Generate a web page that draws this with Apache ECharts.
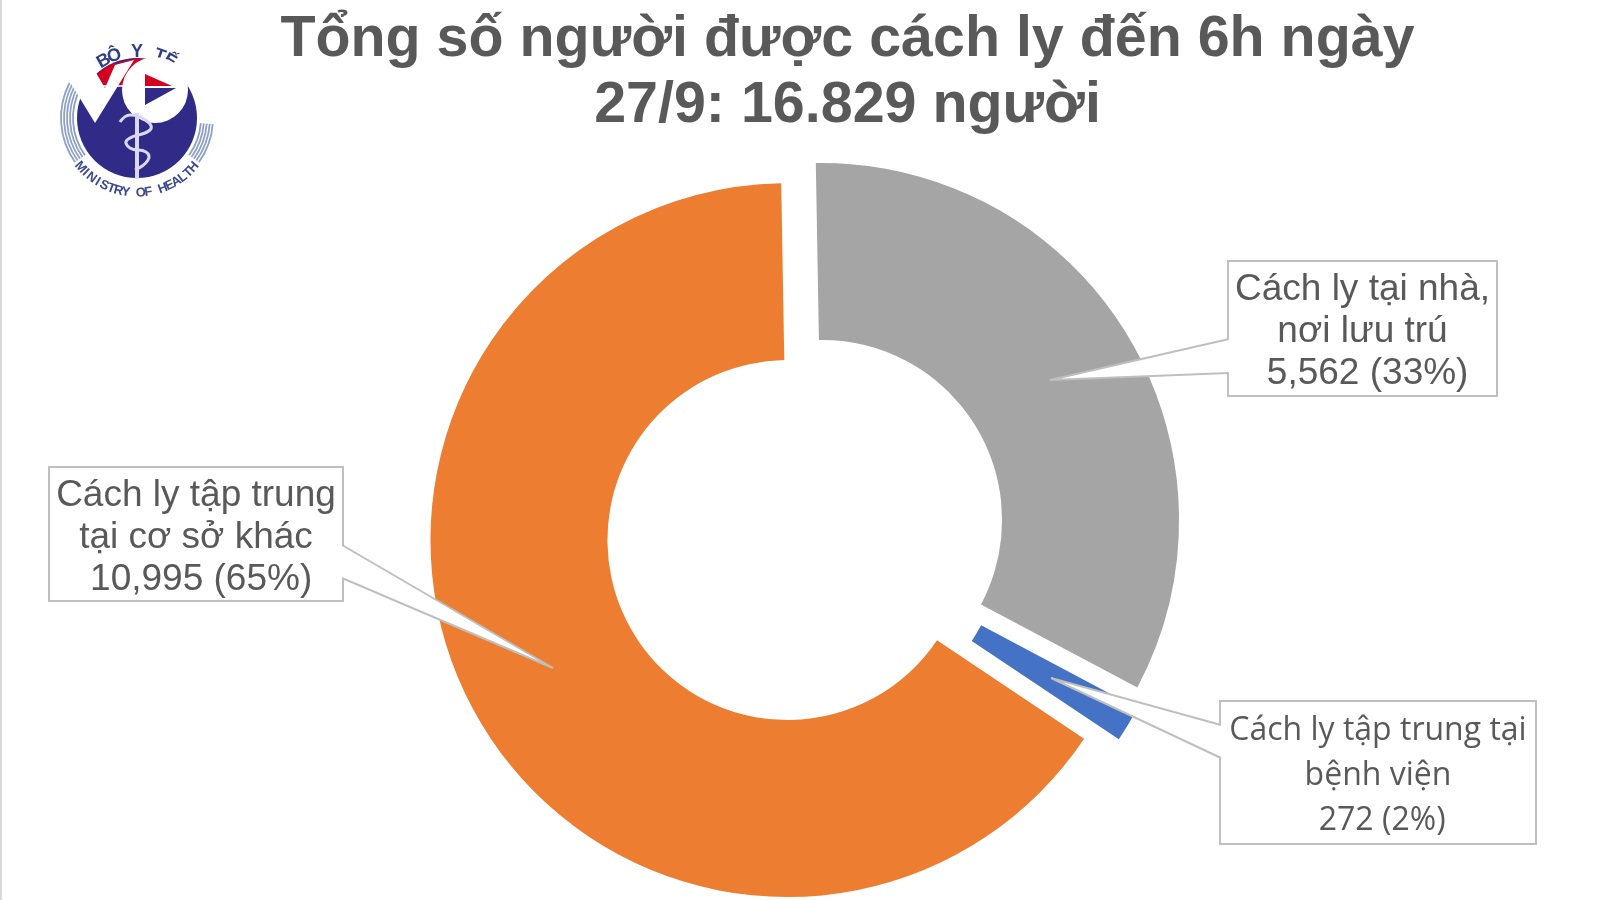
<!DOCTYPE html>
<html><head><meta charset="utf-8">
<style>html,body{margin:0;padding:0;background:#fff}#c{width:1600px;height:900px}</style>
<script src="https://cdn.jsdelivr.net/npm/echarts@6/dist/echarts.min.js"></script>
</head><body><div id="c"></div>
<script>
const titleLines = ['Tổng số người được cách ly đến 6h ngày', '27/9: 16.829 người'];
const categories = ['Cách ly tại nhà,\nnơi lưu trú', 'Cách ly tập trung tại\nbệnh viện', 'Cách ly tập trung\ntại cơ sở khác'];
const values = [5562, 272, 10995];
const colors = ['#a5a5a5', '#4472c4', '#ed7d31'];
const labelFonts = ['"Liberation Sans"', '"Open Sans"', '"Liberation Sans"'];
const labelSizes = [37, 32, 37];
const labelHeights = [42, 45, 42];
const boxes = [[1228,261,1497,396],[1220,701,1536,844],[49,467,343,601]];
const wedges = [
  [[1229,339],[1050,380],[1229,373]],
  [[1221,725],[1051,678],[1221,758]],
  [[342,545],[553,668],[342,578]]
];
const ministryText = 'MINISTRY OF HEALTH'.split('');
const ministerText = 'BỘ Y TẾ'.split('');

const chart = echarts.init(document.getElementById('c'), null, {renderer:'canvas'});
const LX = 137, LY = 118;
const NAVY = '#2f2b87', RED = '#d4001f', PALE = '#d9d8f0';
const logo = [];
[64,67,70,73,76].forEach(r=>{
  logo.push({type:'arc', shape:{cx:LX,cy:LY,r,startAngle:2.52,endAngle:3.62}, style:{stroke:'#8fa0c8',lineWidth:1.8,fill:null}, z:9});
  logo.push({type:'arc', shape:{cx:LX,cy:LY,r,startAngle:0.08,endAngle:0.62}, style:{stroke:'#8fa0c8',lineWidth:1.8,fill:null}, z:9});
});
ministerText.forEach((ch,i)=>{
  const ang = (-30 + i*10)*Math.PI/180;
  logo.push({type:'text', x:LX + Math.sin(ang)*66, y:LY - Math.cos(ang)*66, rotation:-ang,
    style:{text:ch, fill:'#2f3f85', font:'bold 18px "Liberation Sans"', align:'center', verticalAlign:'middle'}, z:8});
});
logo.push({type:'circle', shape:{cx:LX,cy:LY,r:60}, style:{fill:NAVY}, z:10});
logo.push({type:'polygon', shape:{points:[[86,87],[95,75],[109,65],[137,58],[165,65],[179,75],[188,87]]}, style:{fill:RED}, z:11});
logo.push({type:'rect', shape:{x:86,y:85,width:102,height:2}, style:{fill:'#cfd0e8'}, z:12});
// white V and O of the watermark
logo.push({type:'polygon', shape:{points:[[70,82],[95,123],[134,60],[115,65],[105,88],[92,66]]}, style:{fill:'#fff'}, z:14});
logo.push({type:'circle', shape:{cx:155,cy:90,r:33}, style:{fill:'#fff'}, z:14});
logo.push({type:'polygon', shape:{points:[[145,74],[172,86],[145,86]]}, style:{fill:RED}, z:15});
logo.push({type:'polygon', shape:{points:[[145,88],[176,88],[145,105]]}, style:{fill:NAVY}, z:15});
// staff and serpent
logo.push({type:'rect', shape:{x:135,y:113,width:4,height:66}, style:{fill:PALE}, z:16});
logo.push({type:'polyline', shape:{points:[[120,122],[130,115],[148,122],[150,130],[127,140],[130,148],[146,152],[148,160],[135,170]], smooth:0.5}, style:{stroke:PALE,fill:null,lineWidth:3}, z:17});
ministryText.forEach((ch,i)=>{
  const ang = (49 - i*98/(ministryText.length-1))*Math.PI/180;
  logo.push({type:'text', x:LX - Math.sin(ang)*75, y:LY + Math.cos(ang)*75, rotation:-ang,
    style:{text:ch, fill:'#3d4a8c', font:'bold 13px "Liberation Sans"', align:'center', verticalAlign:'middle'}, z:18});
});

const total = values.reduce((a,b)=>a+b,0);
const boxEls = boxes.map((b,i)=>({type:'rect', shape:{x:b[0],y:b[1],width:b[2]-b[0],height:b[3]-b[1]}, style:{fill:'#fff',stroke:'#bfbfbf',lineWidth:2}, z:99}));
const calloutEls = wedges.flatMap(p=>[
  {type:'polygon', shape:{points:p}, style:{fill:'#fff'}, z:100},
  {type:'polyline', shape:{points:p}, style:{stroke:'#bfbfbf',lineWidth:2,fill:null}, z:101}
]);
const textEls = boxes.map((b,i)=>({type:'text', x:(b[0]+b[2])/2, y:(b[1]+b[3])/2+3.5,
  style:{text:categories[i]+'\n '+values[i].toLocaleString('en-US')+' ('+Math.round(values[i]/total*100)+'%)',
    fill:'#595959', font:labelSizes[i]+'px '+labelFonts[i], lineHeight:labelHeights[i], align:'center', verticalAlign:'middle'}, z:102}));

chart.setOption({
  animation:false,
  backgroundColor:'#fff',
  title:{
    text:titleLines.join('\n'), left:842.5, top:2, textAlign:'center',
    textStyle:{fontFamily:'"Liberation Sans"',fontSize:57.4,fontWeight:'bold',color:'#595959',lineHeight:66}
  },
  graphic:[
    {type:'rect', shape:{x:0,y:0,width:2,height:900}, style:{fill:'#d9d9d9'}},
    ...logo, ...boxEls, ...calloutEls, ...textEls
  ],
  series:[{
    type:'pie', center:[805,530.5], radius:[180,357], startAngle:91, clockwise:true,
    selectedMode:'multiple', selectedOffset:20, silent:true,
    label:{show:false}, labelLine:{show:false},
    data:categories.map((name,i)=>({
      name, value:values[i], selected:true,
      itemStyle:{color:colors[i]}
    }))
  }]
});
</script></body></html>
